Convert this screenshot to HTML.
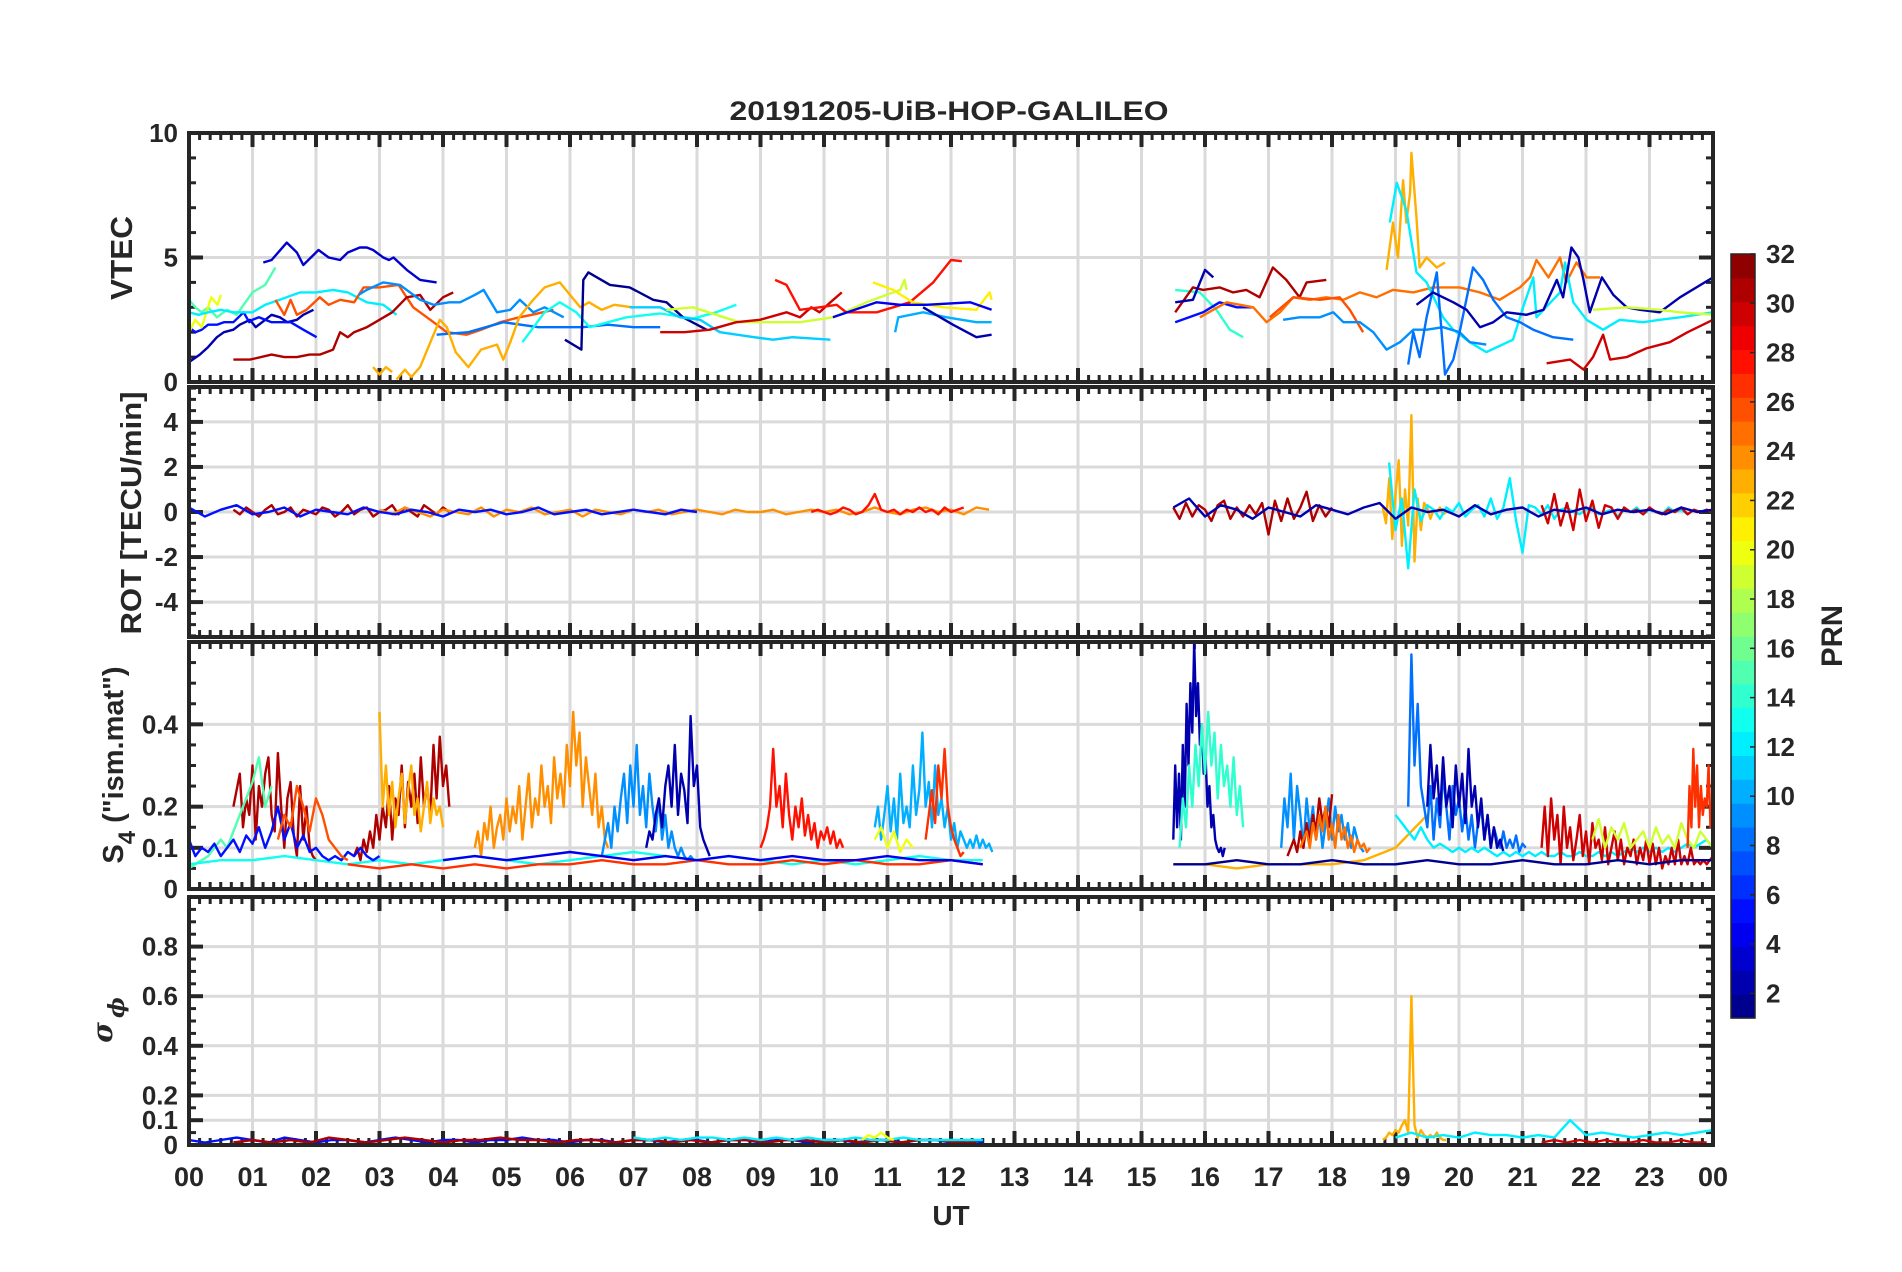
<!DOCTYPE html>
<html><head><meta charset="utf-8"><title>20191205-UiB-HOP-GALILEO</title>
<style>
html,body{margin:0;padding:0;background:#fff;}
svg{display:block;font-family:"Liberation Sans",Arial,sans-serif;}
text{fill:#262626;font-weight:bold;}
</style></head>
<body>
<svg id="fig" width="1902" height="1272" viewBox="0 0 1902 1272" xmlns="http://www.w3.org/2000/svg">
<rect x="0" y="0" width="1902" height="1272" fill="#fff"/>
<text x="949" y="120" text-anchor="middle" font-size="27" textLength="439" lengthAdjust="spacingAndGlyphs">20191205-UiB-HOP-GALILEO</text>
<g id="layers"></g>
</svg>
<script>
// ---------------- DATA ----------------
const hourTicks = [0,1,2,3,4,5,6,7,8,9,10,11,12,13,14,15,16,17,18,19,20,21,22,23,24];
const hourLabels = ["00","01","02","03","04","05","06","07","08","09","10","11","12","13","14","15","16","17","18","19","20","21","22","23","00"];
const vtecTicks = [0,5,10];
const rotTicks = [-4,-2,0,2,4];
const s4Ticks = [0,0.1,0.2,0.4];
const sigTicks = [0,0.1,0.2,0.4,0.6,0.8];
const cbTicks = [2,4,6,8,10,12,14,16,18,20,22,24,26,28,30,32];

// VTEC series (times in UT hours, values in TECU)
const vtecPrn = [2,5,3,15,20,12,26,31,9,8,23,23,13,1,11,19,30,28,21,4,10,2,
                 14,31,2,5,25,23,12,26,9,8,2,30,19];
const vtecTimes = [
 [0,0.17,0.3,0.44,0.55,0.7,0.8,0.96,1.05,1.2,1.3,1.43,1.55,1.7,1.8,1.96],
 [0,0.1,0.2,0.3,0.44,0.55,0.7,0.86,0.95,1.0,1.1,1.2,1.3,1.43,1.6,1.8,2.01],
 [1.17,1.3,1.54,1.7,1.8,2.04,2.2,2.38,2.5,2.69,2.8,2.9,3.06,3.15,3.22,3.43,3.64,3.9],
 [0,0.1,0.2,0.3,0.44,0.6,0.75,0.86,1.0,1.2,1.36],
 [0,0.1,0.2,0.35,0.45,0.5],
 [0,0.15,0.3,0.5,0.7,1.0,1.2,1.43,1.75,2.0,2.27,2.5,2.8,3.06,3.27],
 [1.36,1.5,1.6,1.7,1.85,2.06,2.2,2.38,2.6,2.75,3.0,3.3,3.53,3.8,4.06,4.37,4.6,4.9,5.2,5.4,5.74],
 [0.7,0.96,1.3,1.5,1.7,1.9,2.06,2.27,2.38,2.5,2.6,2.8,3.0,3.2,3.43,3.64,3.8,4.0,4.16],
 [2.67,2.8,3.06,3.32,3.64,3.85,4.1,4.27,4.5,4.64,4.85,5.06,5.21,5.42,5.6,5.9],
 [3.9,4.4,4.95,5.5,6.2,6.6,7.0,7.42],
 [2.9,3.0,3.1,3.2],
 [3.27,3.4,3.5,3.64,3.85,3.95,4.06,4.2,4.4,4.6,4.85,4.95,5.06,5.2,5.42,5.6,5.84,6.0,6.16,6.3,6.5,6.7,6.98],
 [5.25,5.6,5.84,6.1,6.31,6.6,6.89,7.42,7.94,8.3,8.62],
 [5.92,6.18,6.21,6.29,6.63,6.94,7.31,7.52,7.78,8.15],
 [6.94,7.42,7.73,8.05,8.36,8.9,9.2,9.5,10.1],
 [7.52,7.94,8.3,8.67,9.2,9.62,10.14,10.67,11.2,11.27,11.3],
 [7.42,7.8,8.2,8.62,8.99,9.41,9.62,9.8,9.93,10.1,10.28],
 [9.23,9.41,9.62,9.93,10.2,10.35,10.83,11.35,11.72,12.0,12.17],
 [10.77,11.09,11.4,11.88,12.4,12.61,12.64],
 [10.14,10.83,11.2,11.61,12.3,12.64],
 [11.12,11.17,11.56,11.93,12.4,12.64],
 [11.56,12.03,12.4,12.64],
 [15.53,15.92,16.18,16.39,16.6],
 [15.53,15.81,15.97,16.23,16.44,16.65,16.86,17.07,17.28,17.49,17.6,17.91],
 [15.53,15.81,16.0,16.13],
 [15.53,15.97,16.23,16.5,16.76],
 [15.92,16.34,16.76,16.97,17.18,17.39,17.65,17.91,18.18,18.44,18.7,18.96,19.28,19.59,20.01,20.33,20.64,20.96,21.12,21.22,21.41,21.59,21.69,21.85,22.01,22.22],
 [18.86,18.96,19.04,19.12,19.17,19.23,19.25,19.33,19.38,19.49,19.65,19.78],
 [18.91,19.02,19.17,19.33,19.49,19.75,19.91,20.17,20.43,20.85,21.01,21.17,21.22,21.59,21.67,21.8,22.01,22.27,22.53,22.9,23.16,23.48,24],
 [17.02,17.39,17.81,18.12,18.28,18.49],
 [17.23,17.49,17.81,18.02,18.18,18.44,18.65,18.86,19.07,19.28,19.49,19.75,20.01,20.17,20.43],
 [19.2,19.28,19.38,19.49,19.65,19.78,19.91,20.01,20.22,20.38,20.54,20.75,20.96,21.17,21.48,21.8],
 [19.33,19.59,19.91,20.12,20.33,20.54,20.75,21.06,21.33,21.54,21.64,21.77,21.88,21.96,22.06,22.25,22.43,22.64,22.85,23.16,23.48,24],
 [21.38,21.75,21.96,22.11,22.27,22.38,22.64,22.95,23.32,23.6,24],
 [22.11,22.64,23.16,23.48,24]
];
const vtecValues = [
 [0.8,1.1,1.4,1.8,2.0,2.1,2.3,2.5,2.2,2.5,2.7,2.6,2.4,2.5,2.7,2.9],
 [2.2,2.0,2.1,2.3,2.3,2.4,2.4,2.8,2.4,2.5,2.6,2.5,2.4,2.4,2.4,2.1,1.8],
 [4.8,4.9,5.6,5.2,4.7,5.3,5.0,4.9,5.2,5.4,5.4,5.3,5.0,4.9,5.0,4.5,4.1,4.0],
 [3.3,3.0,2.8,3.0,2.6,2.9,2.7,3.1,3.6,3.9,4.6],
 [2.0,2.5,2.2,3.4,3.1,3.5],
 [2.8,2.7,2.8,2.9,2.8,2.8,3.1,3.3,3.6,3.6,3.7,3.6,3.2,3.1,2.7],
 [3.3,2.7,3.3,2.7,2.9,3.4,3.1,3.3,3.2,3.8,3.8,3.9,3.0,2.5,2.0,1.9,2.1,2.4,2.6,2.7,2.9],
 [0.9,0.9,1.1,1.0,1.0,1.1,1.1,1.3,2.0,1.8,2.0,2.2,2.5,2.8,3.4,3.5,2.9,3.4,3.6],
 [3.5,3.7,4.0,3.9,3.3,3.1,3.2,3.2,3.5,3.7,2.8,2.9,3.3,2.8,3.0,2.6],
 [1.9,2.0,2.4,2.2,2.2,2.3,2.2,2.2],
 [0.6,0.3,0.6,0.4],
 [0.1,0.5,0.2,0.6,1.9,2.5,2.2,1.2,0.6,1.3,1.5,0.9,1.6,2.6,3.3,3.8,4.0,3.5,3.0,3.2,2.9,3.1,3.0],
 [1.6,2.8,3.2,2.8,2.2,2.4,2.6,2.75,2.55,2.8,3.1],
 [1.7,1.3,4.1,4.4,3.9,3.8,3.3,3.2,2.6,2.1],
 [3.0,3.0,2.6,2.5,2.0,1.8,1.7,1.8,1.7],
 [2.9,3.0,2.7,2.4,2.4,2.4,2.6,3.2,3.7,4.1,3.7],
 [2.0,2.0,2.1,2.4,2.5,2.8,2.6,3.0,2.8,3.2,3.6],
 [4.1,3.9,2.9,3.0,3.1,2.8,2.8,3.2,4.0,4.9,4.85],
 [4.0,3.7,3.2,3.0,2.9,3.6,3.3],
 [2.6,3.2,3.1,3.1,3.2,2.9],
 [2.0,2.6,2.8,2.6,2.4,2.4],
 [3.0,2.3,1.8,1.9],
 [3.7,3.6,2.9,2.1,1.8],
 [2.8,3.8,3.7,3.8,3.6,3.7,3.4,4.6,4.1,3.4,4.0,4.1],
 [3.2,3.3,4.5,4.2],
 [2.4,2.8,3.2,3.0,3.0],
 [2.6,3.2,3.0,2.4,2.8,3.4,3.3,3.4,3.3,3.6,3.4,3.7,3.6,3.8,3.8,3.6,3.3,3.8,4.2,4.9,4.2,5.0,4.0,4.8,4.2,4.2],
 [4.5,6.4,5.0,8.1,6.4,7.6,9.2,6.6,4.6,5.0,4.6,4.8],
 [6.4,8.0,6.9,4.4,4.0,2.6,2.1,1.6,1.2,1.7,3.0,4.2,2.6,3.6,4.8,3.2,2.5,2.1,2.5,2.4,2.5,2.6,2.8],
 [2.6,3.4,3.3,3.4,2.9,2.0],
 [2.5,2.6,2.6,2.8,2.4,2.4,2.0,1.3,1.6,2.1,2.1,2.2,2.0,1.6,1.5],
 [0.7,2.0,1.0,2.6,4.4,0.3,0.9,2.0,4.6,4.1,3.3,2.6,2.4,2.1,1.8,1.7],
 [3.1,3.6,3.2,2.9,2.2,2.4,2.8,2.7,2.9,4.1,3.4,5.4,5.0,4.1,2.8,4.2,3.5,3.0,2.9,2.8,3.4,4.2],
 [0.75,0.9,0.5,1.0,1.9,0.9,1.0,1.35,1.6,2.0,2.5],
 [2.9,3.0,2.9,2.8,2.7]
];

// ROT series (start hour, step hours, values TECU/min)
const rotPrn = [31,24,5,28,31,23,12,30,2];
const rotStart = [0.7,3.0,0,9.8,15.5,18.8,18.9,21.3,15.5];
const rotStep = [0.1,0.2,0.25,0.1,0.1,0.05,0.1,0.1,0.25];
const rotValues = [
 [0.1,-0.1,0.2,0,-0.2,0.1,0.3,-0.1,0,0.2,-0.2,0.1,0,-0.1,0.2,0.1,-0.2,0,0.3,-0.1,0.1,0.2,-0.2,0,0.1,0.3,-0.1,0.2,0,-0.2,0.3,0.1,-0.1,0.2,0],
 [0.1,-0.1,0.2,0,-0.2,0.1,0,-0.1,0.2,-0.2,0.1,0,0.2,-0.1,0,0.1,-0.2,0.1,0,-0.1,0.1,0,0.1,-0.1,0,0.1,0,-0.1,0.1,0,0,0.1,-0.1,0,0.1,0,0.1,-0.1,0,0.2,0,-0.1,0.1,0.2,0,0.1,-0.1,0.2,0.1],
 [0.2,-0.2,0.1,0.3,-0.1,0,0.2,-0.2,0.1,0,-0.1,0.2,0,-0.1,0.1,0,-0.2,0.1,0,0.1,-0.1,0,0.2,-0.1,0,0.1,-0.1,0,0.1,0,-0.1,0.1,0],
 [0,0.1,0,-0.1,0,0.2,0.1,-0.1,0,0.3,0.8,0.1,0,0.1,-0.1,0.1,0,0.2,0,0.1,-0.1,0.2,0,0.1,0.2],
 [0.2,-0.3,0.4,-0.2,0.3,0.1,-0.4,0.3,0.5,-0.3,0.2,-0.2,0.3,-0.1,0.4,-1.0,0.5,-0.4,0.6,-0.3,0.2,0.9,-0.4,0.3,-0.2,0.2],
 [0.2,-0.5,1.5,-1.2,0.8,2.3,-1.5,1.0,-0.6,4.3,-2.2,0.6,-0.8,0.4,0.2,-0.3,0.1,0,0.2,-0.1,0],
 [2.2,-0.8,0.6,-2.5,1.0,-0.4,0.3,0.1,-0.3,0.2,0,0.4,-0.2,0.1,0.3,-0.2,0.6,-0.3,0.2,1.5,-0.4,-1.8,0.3,0.2,-0.1,0.3,-0.3,0.1,0.2,0,-0.1,0.1,0.2,-0.1,0,0.1,-0.2,0.1,0,0.2,-0.1,0.1,0,-0.1,0.2,0,0.1,-0.1,0.1,0,0.1,0],
 [0.3,-0.5,0.8,-0.6,0.4,-0.8,1.0,-0.4,0.5,-0.7,0.3,0.2,-0.3,0.2,0,0.1,-0.1,0.2,0,-0.1,0.1,0,0.2,-0.1,0.1,0,0.1,0],
 [0.2,0.6,-0.2,0.3,0.1,-0.3,0.2,0,-0.2,0.3,0.1,-0.1,0.2,0.4,-0.3,0.2,0,0.1,-0.2,0.3,-0.1,0.1,0.2,-0.2,0.1,0,0.2,-0.1,0.1,0,0.1,-0.1,0.2,0,0.1]
];

// S4 series
const s4Prn = [31,31,23,15,13,5,26,27,24,9,2,28,10,27,20,4,2,14,9,31,25,23,8,2,12,30,19,27,1];
const s4Start = [0.7,2.6,3.0,0,0,0,1.4,2.5,4.5,6.5,7.2,9.0,10.8,11.6,10.8,4.0,15.5,15.6,17.2,17.3,17.5,15.5,19.2,19.5,19.0,21.3,22.1,23.6,15.5];
const s4Step = [0.05,0.05,0.05,0.1,0.5,0.1,0.1,0.5,0.05,0.05,0.05,0.05,0.05,0.05,0.1,0.5,0.03,0.05,0.05,0.05,0.05,0.5,0.05,0.05,0.1,0.05,0.1,0.03,0.5];
const s4Values = [
 [0.2,0.24,0.28,0.15,0.22,0.18,0.3,0.12,0.25,0.2,0.28,0.32,0.18,0.14,0.33,0.2,0.1,0.22,0.26,0.13,0.08,0.25,0.12,0.2,0.1,0.08,0.07],
 [0.08,0.1,0.07,0.12,0.09,0.14,0.1,0.18,0.12,0.2,0.15,0.25,0.12,0.22,0.18,0.3,0.15,0.26,0.2,0.28,0.16,0.32,0.2,0.25,0.18,0.35,0.22,0.37,0.25,0.3,0.2],
 [0.43,0.2,0.3,0.18,0.26,0.15,0.22,0.28,0.16,0.24,0.3,0.18,0.22,0.14,0.2,0.26,0.16,0.22,0.18,0.2,0.15],
 [0.05,0.06,0.07,0.08,0.1,0.12,0.1,0.14,0.18,0.22,0.26,0.32,0.2,0.25],
 [0.06,0.07,0.07,0.08,0.07,0.06,0.07,0.06,0.07,0.08,0.07,0.06,0.07,0.08,0.09,0.08,0.07,0.08,0.07,0.06,0.07,0.06,0.07,0.08,0.07,0.07],
 [0.12,0.08,0.1,0.09,0.11,0.08,0.1,0.12,0.09,0.13,0.11,0.15,0.1,0.14,0.2,0.12,0.16,0.1,0.13,0.09,0.1,0.08,0.07,0.08,0.07,0.09,0.08,0.1,0.08,0.07,0.08],
 [0.12,0.18,0.15,0.25,0.2,0.14,0.22,0.18,0.12,0.1,0.08,0.07],
 [0.06,0.05,0.06,0.05,0.06,0.05,0.06,0.06,0.07,0.06,0.06,0.07,0.06,0.06,0.07,0.06,0.07,0.06,0.06,0.07,0.06],
 [0.1,0.14,0.08,0.16,0.12,0.2,0.1,0.15,0.18,0.12,0.22,0.14,0.2,0.16,0.25,0.12,0.2,0.28,0.15,0.22,0.18,0.3,0.2,0.25,0.16,0.32,0.22,0.28,0.2,0.35,0.25,0.43,0.3,0.38,0.2,0.32,0.25,0.18,0.28,0.15,0.2,0.12,0.1],
 [0.08,0.12,0.16,0.1,0.2,0.14,0.22,0.28,0.16,0.3,0.2,0.35,0.18,0.25,0.15,0.28,0.2,0.14,0.22,0.12,0.18,0.1,0.14,0.1,0.08,0.1,0.08,0.07,0.08,0.07,0.07],
 [0.1,0.14,0.12,0.18,0.22,0.15,0.25,0.3,0.2,0.35,0.18,0.28,0.24,0.16,0.42,0.25,0.3,0.15,0.12,0.1,0.08],
 [0.1,0.12,0.15,0.2,0.34,0.2,0.25,0.15,0.28,0.18,0.12,0.2,0.15,0.22,0.13,0.18,0.12,0.16,0.1,0.14,0.12,0.15,0.11,0.14,0.1,0.12,0.1],
 [0.15,0.2,0.12,0.18,0.25,0.14,0.22,0.12,0.28,0.16,0.2,0.15,0.3,0.18,0.24,0.38,0.2,0.26,0.15,0.3,0.18,0.22,0.15,0.2,0.12,0.16,0.1,0.14,0.12,0.1,0.12,0.1,0.13,0.1,0.12,0.1,0.11,0.09],
 [0.12,0.18,0.24,0.16,0.3,0.22,0.34,0.2,0.15,0.12,0.1,0.08,0.09],
 [0.12,0.15,0.1,0.14,0.09,0.12,0.1],
 [0.07,0.08,0.07,0.08,0.09,0.08,0.07,0.08,0.07,0.08,0.07,0.08,0.07,0.07,0.08,0.07,0.07,0.06],
 [0.12,0.3,0.15,0.28,0.12,0.35,0.2,0.45,0.3,0.5,0.38,0.6,0.42,0.5,0.35,0.4,0.28,0.32,0.2,0.25,0.15,0.18,0.12,0.1,0.09,0.1,0.08,0.1],
 [0.1,0.22,0.15,0.3,0.2,0.35,0.25,0.4,0.28,0.43,0.3,0.38,0.22,0.35,0.25,0.3,0.2,0.32,0.18,0.25,0.15],
 [0.1,0.22,0.15,0.28,0.12,0.25,0.18,0.1,0.22,0.14,0.2,0.12,0.18,0.1,0.16,0.22,0.12,0.2,0.14,0.18,0.12,0.16,0.1,0.15,0.12,0.1,0.09],
 [0.08,0.1,0.12,0.09,0.14,0.1,0.16,0.12,0.18,0.14,0.22,0.16,0.2,0.15,0.23],
 [0.1,0.12,0.14,0.1,0.16,0.12,0.18,0.14,0.2,0.12,0.16,0.1,0.18,0.12,0.15,0.1,0.13,0.09,0.12,0.1,0.11,0.09,0.1],
 [0.06,0.06,0.05,0.06,0.06,0.06,0.07,0.1,0.18],
 [0.2,0.57,0.3,0.45,0.25,0.2,0.15,0.25,0.12,0.22,0.15,0.28,0.2,0.12,0.25,0.18,0.22,0.14,0.2,0.12,0.18,0.1,0.16,0.2,0.12,0.18,0.1,0.15,0.12,0.1,0.14,0.1,0.12,0.1,0.13,0.09,0.11,0.1],
 [0.2,0.35,0.22,0.3,0.18,0.32,0.2,0.25,0.15,0.3,0.2,0.28,0.16,0.34,0.2,0.25,0.15,0.22,0.12,0.18,0.1,0.15,0.1,0.12,0.09],
 [0.18,0.16,0.14,0.12,0.15,0.12,0.1,0.11,0.1,0.09,0.1,0.09,0.1,0.09,0.1,0.09,0.08,0.09,0.08,0.09,0.08,0.09,0.08,0.09,0.08,0.08,0.09,0.08,0.08,0.09,0.08,0.08,0.09,0.08,0.09,0.08,0.09,0.1,0.09,0.1,0.09,0.1,0.09,0.1,0.09,0.1,0.11,0.1,0.11,0.12,0.1],
 [0.1,0.2,0.08,0.22,0.12,0.18,0.06,0.2,0.1,0.15,0.07,0.12,0.18,0.08,0.14,0.06,0.16,0.1,0.12,0.07,0.15,0.06,0.1,0.14,0.07,0.12,0.06,0.1,0.08,0.12,0.06,0.1,0.07,0.12,0.06,0.11,0.06,0.1,0.05,0.08,0.06,0.1,0.06,0.12,0.06,0.08,0.06,0.1,0.06,0.07,0.06,0.07,0.06,0.07,0.08],
 [0.12,0.17,0.1,0.15,0.12,0.16,0.1,0.12,0.14,0.1,0.15,0.11,0.13,0.1,0.16,0.12,0.1,0.14,0.12,0.1],
 [0.1,0.25,0.15,0.34,0.2,0.3,0.15,0.25,0.18,0.22,0.2,0.3,0.15,0.2],
 [0.06,0.06,0.07,0.06,0.06,0.07,0.06,0.06,0.07,0.06,0.06,0.07,0.06,0.06,0.07,0.06,0.07,0.07]
];

// Sigma-phi series
const sigPrn = [5,31,12,23,12,30,20];
const sigStart = [0,0.7,7.0,18.8,19.0,21.3,10.6];
const sigStep = [0.25,0.3,0.25,0.05,0.25,0.2,0.1];
const sigValues = [
 [0.02,0.01,0.02,0.03,0.02,0.01,0.03,0.02,0.01,0.02,0.02,0.01,0.02,0.03,0.02,0.01,0.02,0.02,0.01,0.02,0.02,0.03,0.02,0.02,0.01,0.02,0.02,0.01,0.02,0.02,0.01,0.02,0.02,0.01,0.02,0.02,0.01,0.02,0.02,0.01,0.02,0.02,0.01,0.02,0.02,0.01,0.02,0.02,0.01,0.02,0.01],
 [0.01,0.02,0.01,0.02,0.01,0.03,0.02,0.01,0.02,0.03,0.02,0.01,0.02,0.02,0.03,0.02,0.02,0.01,0.02,0.02,0.01,0.02,0.02,0.01,0.02,0.01,0.02,0.02,0.01,0.02,0.02,0.01,0.02,0.01,0.02,0.01,0.02,0.02,0.01,0.01],
 [0.03,0.02,0.03,0.02,0.03,0.03,0.02,0.03,0.02,0.03,0.02,0.03,0.02,0.02,0.03,0.02,0.02,0.03,0.02,0.02,0.02,0.02,0.02],
 [0.02,0.03,0.05,0.04,0.06,0.05,0.08,0.1,0.05,0.6,0.08,0.03,0.06,0.04,0.03,0.04,0.03,0.05,0.03,0.02,0.02],
 [0.03,0.05,0.03,0.04,0.03,0.05,0.04,0.04,0.03,0.04,0.03,0.1,0.04,0.05,0.04,0.03,0.04,0.05,0.04,0.05,0.06,0.05,0.07,0.06,0.08,0.07],
 [0.01,0.02,0.01,0.02,0.01,0.02,0.01,0.01,0.02,0.01,0.01,0.02,0.01,0.01],
 [0.02,0.04,0.03,0.05,0.03,0.02]
];

// ---------------- LAYOUT ----------------
const PX0 = 189, PX1 = 1713;
const panels = [
 {name:'vtec', top:133, bot:382, min:0, max:10, ticks:vtecTicks, minor:1, labels:['0','5','10']},
 {name:'rot', top:387, bot:637, min:-5.55, max:5.55, ticks:rotTicks, minor:0.5, labels:['-4','-2','0','2','4']},
 {name:'s4', top:642, bot:889, min:0, max:0.6, ticks:s4Ticks, minor:0.05, labels:['0','0.1','0.2','0.4']},
 {name:'sigma', top:897, bot:1145, min:0, max:1.0, ticks:sigTicks, minor:0.05, labels:['0','0.1','0.2','0.4','0.6','0.8']}
];
function xScale(t){ return PX0 + (t/24)*(PX1-PX0); }
function yScale(p, v){ return p.bot - (v - p.min)/(p.max - p.min)*(p.bot - p.top); }
function jet(n){
  const x = (n-0.5)/32;
  const c = v => Math.round(255*Math.max(0, Math.min(1, v)));
  return 'rgb(' + c(1.5-Math.abs(4*x-3)) + ',' + c(1.5-Math.abs(4*x-2)) + ',' + c(1.5-Math.abs(4*x-1)) + ')';
}
const NS = 'http://www.w3.org/2000/svg';
const layers = document.getElementById('layers');
function mk(tag, attrs, parent){
  const e = document.createElementNS(NS, tag);
  for (const k in attrs) e.setAttribute(k, attrs[k]);
  (parent || layers).appendChild(e);
  return e;
}
const AX = '#262626';

const defs = mk('defs', {});
panels.forEach(p => {
  const cp = mk('clipPath', {id:'clip-' + p.name}, defs);
  mk('rect', {x:PX0, y:p.top, width:PX1-PX0, height:p.bot-p.top}, cp);
});

panels.forEach(p => {
  const g = mk('g', {});
  
  
  hourTicks.forEach(h => {
    if (h === 0 || h === 24) return;
    const gl = mk('line', {x1:xScale(h), x2:xScale(h), y1:p.top, y2:p.bot, stroke:'#dadada', 'stroke-width':3}, g);
    
    
  });
  p.ticks.forEach(v => {
    if (v === p.min || v === p.max) return;
    const gl = mk('line', {x1:PX0, x2:PX1, y1:yScale(p, v), y2:yScale(p, v), stroke:'#dadada', 'stroke-width':3}, g);
    
    
  });
  for (let m = 0; m <= 144; m++) {
    const x = xScale(m/6);
    const major = m % 6 === 0;
    const L = major ? 14 : 7;
    mk('line', {x1:x, x2:x, y1:p.top, y2:p.top+L, stroke:AX, 'stroke-width':major?4:3}, g);
    mk('line', {x1:x, x2:x, y1:p.bot, y2:p.bot-L, stroke:AX, 'stroke-width':major?4:3}, g);
  }
  const start = Math.ceil(p.min/p.minor - 1e-9);
  for (let k = start; k*p.minor <= p.max + 1e-9; k++) {
    const v = k*p.minor;
    const y = yScale(p, v);
    const major = p.ticks.some(t => Math.abs(t - v) < 1e-6);
    const L = major ? 14 : 7;
    mk('line', {x1:PX0, x2:PX0+L, y1:y, y2:y, stroke:AX, 'stroke-width':major?4:3}, g);
    mk('line', {x1:PX1, x2:PX1-L, y1:y, y2:y, stroke:AX, 'stroke-width':major?4:3}, g);
  }
  p.ticks.forEach((v, i) => {
    const t = mk('text', {x:178, y:yScale(p, v)+9, 'text-anchor':'end', 'font-size':26}, g);
    t.textContent = p.labels[i];
    
    
  });
});

function drawSeries(p, times, vals, prn, name){
  const pts = times.map((t, i) => xScale(t).toFixed(1) + ',' + yScale(p, vals[i]).toFixed(1)).join(' ');
  const pl = mk('polyline', {points:pts, fill:'none', stroke:jet(prn), 'stroke-width':2.4, 'stroke-linejoin':'round', 'clip-path':'url(#clip-' + p.name + ')'});
  
  
}
vtecValues.forEach((vals, i) => drawSeries(panels[0], vtecTimes[i], vals, vtecPrn[i], 'vtec-line-prn' + vtecPrn[i]));
function stepped(start, step, vals){ return vals.map((v, i) => start + i*step); }
rotValues.forEach((vals, i) => drawSeries(panels[1], stepped(rotStart[i], rotStep[i], vals), vals, rotPrn[i], 'rot-line-prn' + rotPrn[i]));
s4Values.forEach((vals, i) => drawSeries(panels[2], stepped(s4Start[i], s4Step[i], vals), vals, s4Prn[i], 's4-line-prn' + s4Prn[i]));
sigValues.forEach((vals, i) => drawSeries(panels[3], stepped(sigStart[i], sigStep[i], vals), vals, sigPrn[i], 'sigma-line-prn' + sigPrn[i]));

panels.forEach(p => {
  const r = mk('rect', {x:PX0, y:p.top, width:PX1-PX0, height:p.bot-p.top, fill:'none', stroke:AX, 'stroke-width':4});
  
  
});

hourTicks.forEach((h, i) => {
  const t = mk('text', {x:xScale(h), y:1186, 'text-anchor':'middle', 'font-size':27});
  t.textContent = hourLabels[i];
  
  
});
const ut = mk('text', {x:951, y:1225, 'text-anchor':'middle', 'font-size':28});
ut.textContent = 'UT';



function yTitle(txt, cx, cy, size, len, name){
  const t = mk('text', {x:0, y:0, 'text-anchor':'middle', 'font-size':size, transform:'translate(' + cx + ',' + cy + ') rotate(-90)', textLength:len, lengthAdjust:'spacingAndGlyphs'});
  t.textContent = txt;
  
  
  return t;
}
yTitle('VTEC', 132, 258, 31, 84, 'vtec-y-axis-title');
yTitle('ROT [TECU/min]', 141, 513, 29, 243, 'rot-y-axis-title');
const s4t = mk('text', {x:0, y:0, 'text-anchor':'middle', 'font-size':29, transform:'translate(123,765) rotate(-90)'});


const s4a = mk('tspan', {}, s4t); s4a.textContent = 'S';
const s4b = mk('tspan', {dy:12, 'font-size':24}, s4t); s4b.textContent = '4';
const s4c = mk('tspan', {dy:-12}, s4t); s4c.textContent = ' ("ism.mat")';
const sgt = mk('text', {x:0, y:0, 'text-anchor':'middle', 'font-size':28, 'font-style':'italic', 'font-weight':'normal', transform:'translate(112,1020) rotate(-90)', 'font-family':'"DejaVu Serif", "Liberation Serif", serif'});


const sg1 = mk('tspan', {}, sgt); sg1.textContent = 'σ';
const sg2 = mk('tspan', {dy:12, dx:4, 'font-size':22}, sgt); sg2.textContent = 'ϕ';

const CB = {x:1731, w:24, top:254, bot:1018, min:1, max:32};
const cbg = mk('g', {});


const segH = (CB.bot - CB.top)/32;
for (let n = 1; n <= 32; n++) {
  const r = mk('rect', {x:CB.x, y:(CB.bot - n*segH).toFixed(2), width:CB.w, height:(segH+0.6).toFixed(2), fill:jet(n)}, cbg);
  
  
}
mk('rect', {x:CB.x, y:CB.top, width:CB.w, height:CB.bot-CB.top, fill:'none', stroke:AX, 'stroke-width':1.5}, cbg);
function cbY(v){ return CB.bot - (v - CB.min)/(CB.max - CB.min)*(CB.bot - CB.top); }
cbTicks.forEach(v => {
  const y = cbY(v);
  mk('line', {x1:CB.x+CB.w-5, x2:CB.x+CB.w, y1:y, y2:y, stroke:AX, 'stroke-width':1.5}, cbg);
  const t = mk('text', {x:1766, y:y+9, 'font-size':26}, cbg);
  t.textContent = String(v);
  
  
});
yTitle('PRN', 1842, 636, 30, 62, 'colorbar-title');
</script>
</body></html>
